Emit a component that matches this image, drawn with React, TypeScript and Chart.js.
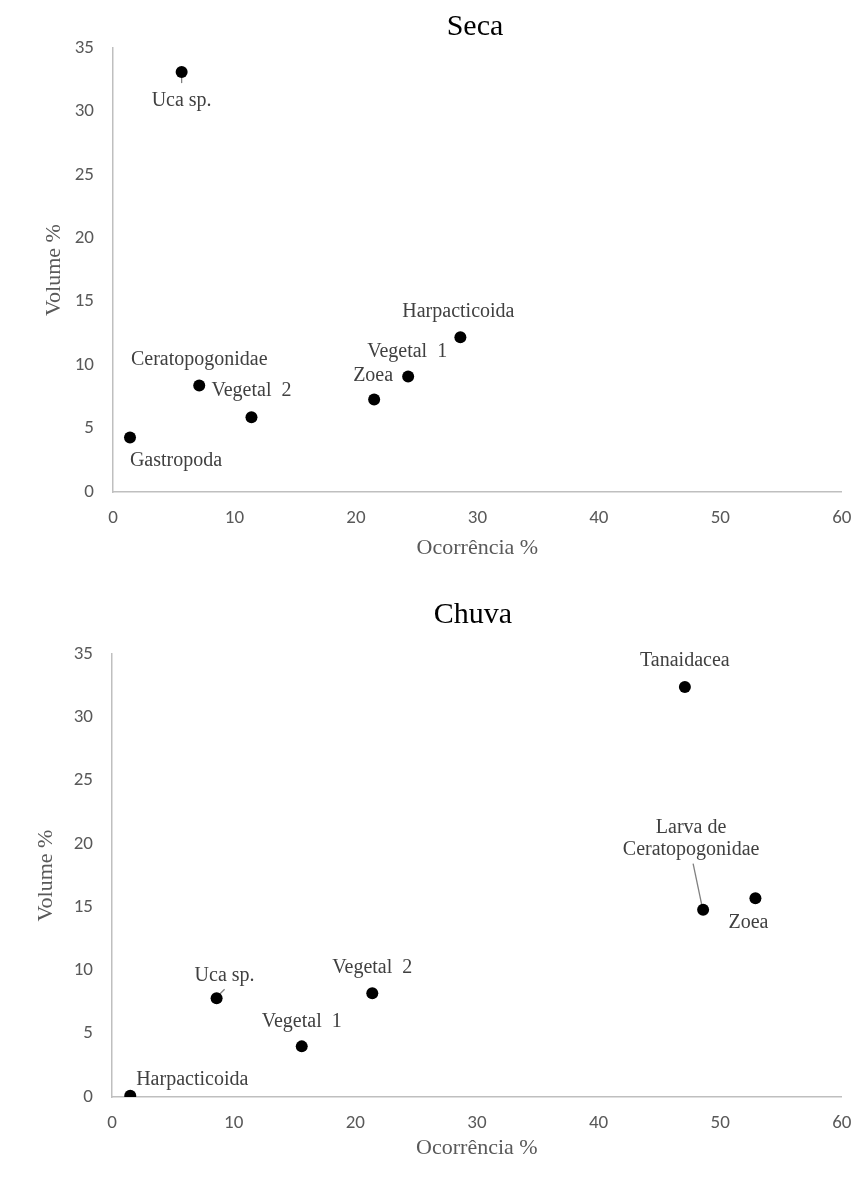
import React, { useEffect, useRef } from "react";
import { Chart, registerables } from "chart.js";

Chart.register(...registerables);

// Axis ticks shared by both panels
const xTicks = [0, 10, 20, 30, 40, 50, 60];
const yTicks = [0, 5, 10, 15, 20, 25, 30, 35];

// Estação seca
const secaTaxa: (string | string[])[] = [
  "Uca sp.",
  "Harpacticoida",
  "Vegetal  1",
  "Zoea",
  "Ceratopogonidae",
  "Vegetal  2",
  "Gastropoda",
];
const secaOcorrencia = [5.65, 28.6, 24.3, 21.5, 7.1, 11.4, 1.4];
const secaVolume = [33.1, 12.2, 9.1, 7.3, 8.4, 5.9, 4.3];

// Estação chuvosa
const chuvaTaxa: (string | string[])[] = [
  "Tanaidacea",
  ["Larva de", "Ceratopogonidae"],
  "Zoea",
  "Vegetal  2",
  "Uca sp.",
  "Vegetal  1",
  "Harpacticoida",
];
const chuvaOcorrencia = [47.1, 48.6, 52.9, 21.4, 8.6, 15.6, 1.5];
const chuvaVolume = [32.4, 14.8, 15.7, 8.2, 7.8, 4.0, 0.1];

// Label placement relative to each point (pixels), with optional leader line
type Place = { dx: number; dy: number; leader?: [number, number, number, number] };

const secaPlaces: Place[] = [
  { dx: 0, dy: 29, leader: [0, 0, 0, 11] },
  { dx: -2, dy: -25 },
  { dx: -1, dy: -25 },
  { dx: -1, dy: -24 },
  { dx: 0, dy: -26 },
  { dx: 0, dy: -26 },
  { dx: 46, dy: 23 },
];

const chuvaPlaces: Place[] = [
  { dx: 0, dy: -26 },
  { dx: -12, dy: -82, leader: [-10, -46, -1, -3] },
  { dx: -7, dy: 24 },
  { dx: 0, dy: -25 },
  { dx: 8, dy: -23, leader: [2, -3, 8, -9] },
  { dx: 0, dy: -25 },
  { dx: 62, dy: -16 },
];

const SERIF = '"Liberation Serif", "Times New Roman", serif';
const SANS = 'Carlito, "Liberation Sans", Arial, sans-serif';
const AXIS_GREY = "#bfbfbf";
const TEXT_GREY = "#595959";

function pointLabelPlugin(labels: (string | string[])[], places: Place[]) {
  return {
    id: "pointLabels",
    beforeDatasetsDraw(chart: any) {
      const ctx = chart.ctx;
      const meta = chart.getDatasetMeta(0);
      ctx.save();
      ctx.strokeStyle = "#808080";
      ctx.lineWidth = 1.3;
      meta.data.forEach((el: any, i: number) => {
        const p = places[i];
        if (!p || !p.leader) return;
        const { x, y } = el.getProps(["x", "y"], true);
        ctx.beginPath();
        ctx.moveTo(x + p.leader[0], y + p.leader[1]);
        ctx.lineTo(x + p.leader[2], y + p.leader[3]);
        ctx.stroke();
      });
      ctx.restore();
    },
    afterDatasetsDraw(chart: any) {
      const ctx = chart.ctx;
      const meta = chart.getDatasetMeta(0);
      ctx.save();
      ctx.font = `20px ${SERIF}`;
      ctx.fillStyle = "#404040";
      ctx.textAlign = "center";
      ctx.textBaseline = "middle";
      meta.data.forEach((el: any, i: number) => {
        const p = places[i];
        const { x, y } = el.getProps(["x", "y"], true);
        const lines = Array.isArray(labels[i]) ? (labels[i] as string[]) : [labels[i] as string];
        lines.forEach((ln, j) => {
          ctx.fillText(ln, x + p.dx, y + p.dy + j * 22);
        });
      });
      ctx.restore();
    },
  };
}

// Centres the chart title over a given x position
function titleCenterPlugin(cx: number) {
  return {
    id: "titleCenter",
    afterLayout(chart: any) {
      const t = chart.titleBlock;
      if (!t) return;
      const half = t.width / 2;
      t.left = cx - half;
      t.right = cx + half;
    },
  };
}

type PanelProps = {
  title: string;
  taxa: (string | string[])[];
  ocorrencia: number[];
  volume: number[];
  places: Place[];
  top: number;
  height: number;
  plotLeft: number;
  plotRight: number;
  plotTop: number;
  plotBottom: number;
  titleX: number;
  titleY: number;
  xTitleY: number;
  yTitleX: number;
  xTickY: number;
};

function Panel(props: PanelProps) {
  const ref = useRef<HTMLCanvasElement>(null);

  useEffect(() => {
    const canvas = ref.current;
    if (!canvas) return;
    const W = 866;
    const H = props.height;
    const titleLH = 30 * 1.2;
    const titlePadTop = props.titleY - titleLH / 2;
    const titlePadBottom = props.plotTop - titlePadTop - titleLH;
    const axisTitleLH = 22 * 1.2;
    const tickLH = 19 * 1.2;

    const chart = new Chart(canvas, {
      type: "scatter",
      data: {
        datasets: [
          {
            label: props.title,
            data: props.ocorrencia.map((x, i) => ({ x, y: props.volume[i] })),
            backgroundColor: "#000000",
            borderColor: "#000000",
            borderWidth: 0,
            pointRadius: 6,
            pointHoverRadius: 6,
          },
        ],
      },
      options: {
        responsive: false,
        animation: false,
        devicePixelRatio: 1,
        layout: {
          padding: { left: 0, right: W - props.plotRight, top: 0, bottom: 0 },
        },
        plugins: {
          legend: { display: false },
          tooltip: { enabled: false },
          title: {
            display: true,
            text: props.title,
            color: "#000000",
            font: { family: SERIF, size: 30, weight: "normal" },
            padding: { top: titlePadTop, bottom: titlePadBottom },
          },
        },
        scales: {
          x: {
            type: "linear",
            min: xTicks[0],
            max: xTicks[xTicks.length - 1],
            afterBuildTicks: (s: any) => {
              s.ticks = xTicks.map((v) => ({ value: v }));
            },
            afterFit: (s: any) => {
              s.height = H - props.plotBottom;
            },
            grid: { display: false, drawTicks: false },
            border: { display: true, color: AXIS_GREY, width: 1.5 },
            ticks: {
              color: TEXT_GREY,
              font: { family: SANS, size: 19 },
              padding: props.xTickY - props.plotBottom - tickLH / 2,
              maxRotation: 0,
            },
            title: {
              display: true,
              text: "Ocorrência %",
              color: TEXT_GREY,
              font: { family: SERIF, size: 22 },
              padding: { top: 0, bottom: H - props.xTitleY - axisTitleLH / 2 },
            },
          },
          y: {
            type: "linear",
            min: yTicks[0],
            max: yTicks[yTicks.length - 1],
            afterBuildTicks: (s: any) => {
              s.ticks = yTicks.map((v) => ({ value: v }));
            },
            afterFit: (s: any) => {
              s.width = props.plotLeft;
            },
            grid: { display: false, drawTicks: false },
            border: { display: true, color: AXIS_GREY, width: 1.5 },
            ticks: {
              color: TEXT_GREY,
              font: { family: SANS, size: 19 },
              padding: 19,
            },
            title: {
              display: true,
              text: "Volume %",
              color: TEXT_GREY,
              font: { family: SERIF, size: 22 },
              padding: { top: props.yTitleX - axisTitleLH / 2, bottom: 0 },
            },
          },
        },
      },
      plugins: [pointLabelPlugin(props.taxa, props.places), titleCenterPlugin(props.titleX)],
    } as any);

    return () => chart.destroy();
  }, []);

  return (
    <canvas
      ref={ref}
      width={866}
      height={props.height}
      style={{ position: "absolute", left: 0, top: props.top, width: 866, height: props.height }}
    />
  );
}

export default function App() {
  return (
    <div style={{ position: "absolute", left: 0, top: 0, width: 866, height: 1185, background: "#ffffff" }}>
      <Panel
        title="Seca"
        taxa={secaTaxa}
        ocorrencia={secaOcorrencia}
        volume={secaVolume}
        places={secaPlaces}
        top={0}
        height={585}
        plotLeft={113}
        plotRight={848}
        plotTop={48}
        plotBottom={492}
        titleX={475}
        titleY={27}
        xTitleY={548}
        yTitleX={54}
        xTickY={518}
      />
      <Panel
        title="Chuva"
        taxa={chuvaTaxa}
        ocorrencia={chuvaOcorrencia}
        volume={chuvaVolume}
        places={chuvaPlaces}
        top={585}
        height={600}
        plotLeft={112}
        plotRight={845}
        plotTop={69}
        plotBottom={512}
        titleX={473}
        titleY={30}
        xTitleY={563}
        yTitleX={46}
        xTickY={538}
      />
    </div>
  );
}
